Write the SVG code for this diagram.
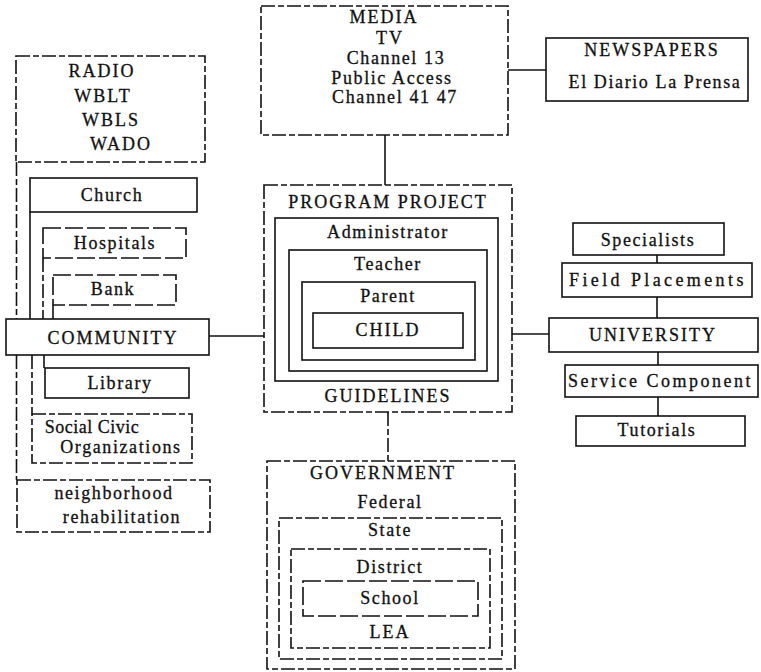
<svg xmlns="http://www.w3.org/2000/svg" width="761" height="672" viewBox="0 0 761 672">
  <style>
    .box { fill: none; stroke: #111; stroke-width: 1.6; }
    .dash { stroke-dasharray: 14 3 6 3; }
    .ldash { stroke-dasharray: 18 4; }
    .wire { fill: none; stroke: #111; stroke-width: 1.6; }
    text { font-family: "Liberation Serif", "Times New Roman", serif; font-size: 18px; fill: #111; stroke: #111; stroke-width: 0.3; text-anchor: middle; letter-spacing: 1.6px; }
    .caps { letter-spacing: 2px; }
  </style>
  <rect width="761" height="672" fill="#fff"/>

  <!-- connectors -->
  <g id="connectors">
    <path class="wire" d="M508,70 H546"/>
    <path class="wire" d="M385,135 V185"/>
    <path class="wire" d="M209,336 H264"/>
    <path class="wire" d="M512,334 H549"/>
    <path class="wire dash" d="M388,412 V461"/>
    <path class="wire" d="M657,255 V263"/>
    <path class="wire" d="M657,297 V318"/>
    <path class="wire" d="M658,352 V365"/>
    <path class="wire" d="M658,397 V416"/>
    <!-- community side rails -->
    <path class="wire dash" d="M16.5,162 V319"/>
    <path class="wire dash" d="M16.5,355 V480"/>
    <path class="wire" d="M30,212 V319"/>
    <path class="wire dash" d="M43,258 V319"/>
    <path class="wire" d="M53,305 V319"/>
    <path class="wire" d="M44,355 V368"/>
    <path class="wire dash" d="M32,355 V414"/>
  </g>

  <g id="radio">
    <rect class="box dash" x="16" y="56" width="189" height="106"/>
    <text class="caps" x="102" y="77">RADIO</text>
    <text class="caps" x="103" y="102">WBLT</text>
    <text class="caps" x="111" y="126">WBLS</text>
    <text class="caps" x="121" y="150">WADO</text>
  </g>

  <g id="church">
    <rect class="box" x="30" y="178" width="167" height="34"/>
    <text x="112" y="201">Church</text>
  </g>
  <g id="hospitals">
    <rect class="box ldash" x="43" y="228" width="143" height="30"/>
    <text x="115" y="249">Hospitals</text>
  </g>
  <g id="bank">
    <rect class="box ldash" x="53" y="275" width="123" height="30"/>
    <text x="113" y="295">Bank</text>
  </g>

  <g id="community">
    <rect class="box" x="6" y="319" width="203" height="36"/>
    <text class="caps" x="113" y="344">COMMUNITY</text>
  </g>
  <g id="library">
    <rect class="box" x="45" y="368" width="144" height="30"/>
    <text x="120" y="389">Library</text>
  </g>
  <g id="social-civic">
    <rect class="box dash" x="32" y="414" width="160" height="49"/>
    <text x="92" y="433" style="letter-spacing:0.5px">Social Civic</text>
    <text x="121" y="453">Organizations</text>
  </g>
  <g id="neighborhood">
    <rect class="box dash" x="17" y="480" width="193" height="52"/>
    <text x="114" y="499">neighborhood</text>
    <text x="122" y="523">rehabilitation</text>
  </g>

  <g id="media">
    <rect class="box dash" x="261" y="6" width="247" height="129"/>
    <text class="caps" x="384" y="23">MEDIA</text>
    <text class="caps" x="390" y="44">TV</text>
    <text x="396" y="64">Channel 13</text>
    <text x="392" y="84">Public Access</text>
    <text x="395" y="103">Channel 41 47</text>
  </g>

  <g id="newspapers">
    <rect class="box" x="546" y="38" width="202" height="63"/>
    <text class="caps" x="652" y="56">NEWSPAPERS</text>
    <text x="655" y="88">El Diario La Prensa</text>
  </g>

  <g id="program-project">
    <rect class="box dash" x="264" y="185" width="248" height="227"/>
    <text class="caps" x="388" y="208">PROGRAM PROJECT</text>
    <rect class="box" x="275" y="218" width="223" height="163"/>
    <text x="388" y="238">Administrator</text>
    <rect class="box" x="289" y="250" width="198" height="121"/>
    <text x="388" y="270">Teacher</text>
    <rect class="box" x="302" y="282" width="173" height="78"/>
    <text x="388" y="302">Parent</text>
    <rect class="box" x="313" y="313" width="150" height="35"/>
    <text class="caps" x="388" y="336">CHILD</text>
    <text class="caps" x="388" y="402">GUIDELINES</text>
  </g>

  <g id="specialists">
    <rect class="box" x="573" y="223" width="151" height="32"/>
    <text x="648" y="246">Specialists</text>
  </g>
  <g id="field-placements">
    <rect class="box" x="562" y="263" width="190" height="34"/>
    <text x="569" y="286" style="text-anchor:start" textLength="176" lengthAdjust="spacing">Field Placements</text>
  </g>
  <g id="university">
    <rect class="box" x="549" y="318" width="209" height="34"/>
    <text class="caps" x="653" y="341">UNIVERSITY</text>
  </g>
  <g id="service-component">
    <rect class="box" x="565" y="365" width="193" height="32"/>
    <text x="568" y="387" style="text-anchor:start" textLength="184" lengthAdjust="spacing">Service Component</text>
  </g>
  <g id="tutorials">
    <rect class="box" x="576" y="416" width="169" height="30"/>
    <text x="657" y="436">Tutorials</text>
  </g>

  <g id="government">
    <rect class="box dash" x="267" y="461" width="248" height="208"/>
    <text class="caps" x="383" y="479">GOVERNMENT</text>
    <text x="390" y="508">Federal</text>
    <rect class="box dash" x="279" y="518" width="223" height="141"/>
    <text x="390" y="536">State</text>
    <rect class="box dash" x="291" y="549" width="199" height="99"/>
    <text x="390" y="573">District</text>
    <rect class="box ldash" x="303" y="581" width="175" height="35"/>
    <text x="390" y="604">School</text>
    <text class="caps" x="390" y="638">LEA</text>
  </g>
</svg>
